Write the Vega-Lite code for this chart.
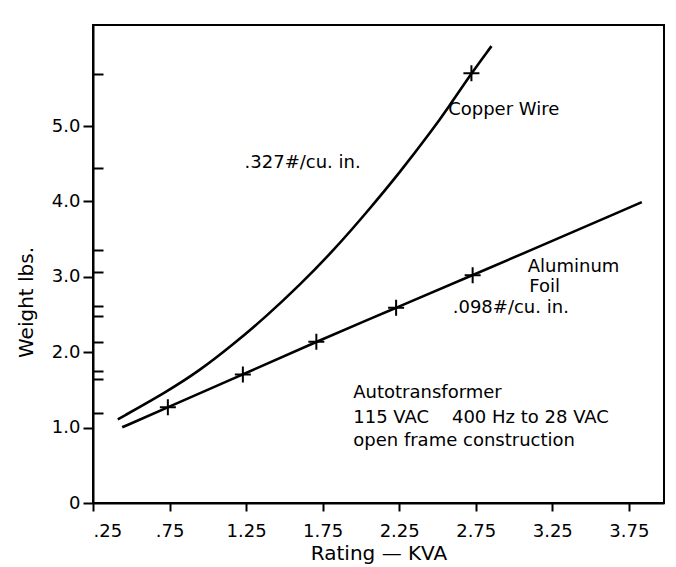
{
  "$schema": "https://vega.github.io/schema/vega-lite/v6.json",
  "width": 571,
  "height": 478,
  "autosize": {"type": "none"},
  "padding": {"left": 93, "top": 25, "right": 12, "bottom": 64},
  "background": "white",
  "config": {
    "view": {"stroke": "black", "strokeWidth": 2},
    "font": "DejaVu Sans",
    "axis": {
      "domainColor": "black",
      "domainWidth": 2,
      "tickColor": "black",
      "tickWidth": 2,
      "labelColor": "black",
      "titleColor": "black",
      "labelFont": "DejaVu Sans",
      "titleFont": "DejaVu Sans",
      "labelFontSize": 18,
      "titleFontSize": 20,
      "titleFontWeight": "normal",
      "grid": false,
      "labelOverlap": false
    }
  },
  "datasets": {
    "curves": [
      {"series": "Copper Wire", "x": 0.412, "y": 1.11},
      {"series": "Copper Wire", "x": 0.728, "y": 1.47},
      {"series": "Copper Wire", "x": 0.946, "y": 1.755},
      {"series": "Copper Wire", "x": 1.164, "y": 2.1},
      {"series": "Copper Wire", "x": 1.382, "y": 2.475},
      {"series": "Copper Wire", "x": 1.6, "y": 2.89},
      {"series": "Copper Wire", "x": 1.817, "y": 3.34},
      {"series": "Copper Wire", "x": 2.036, "y": 3.85},
      {"series": "Copper Wire", "x": 2.253, "y": 4.38},
      {"series": "Copper Wire", "x": 2.471, "y": 4.96},
      {"series": "Copper Wire", "x": 2.569, "y": 5.24},
      {"series": "Copper Wire", "x": 2.722, "y": 5.7},
      {"series": "Copper Wire", "x": 2.853, "y": 6.06},
      {"series": "Aluminum Foil", "x": 0.441, "y": 1.004},
      {"series": "Aluminum Foil", "x": 0.739, "y": 1.27},
      {"series": "Aluminum Foil", "x": 1.229, "y": 1.705},
      {"series": "Aluminum Foil", "x": 1.709, "y": 2.139},
      {"series": "Aluminum Foil", "x": 2.23, "y": 2.59},
      {"series": "Aluminum Foil", "x": 2.73, "y": 3.02},
      {"series": "Aluminum Foil", "x": 3.835, "y": 3.99}
    ],
    "markers": [
      {"series": "Copper Wire", "x": 2.722, "y": 5.7},
      {"series": "Aluminum Foil", "x": 0.739, "y": 1.27},
      {"series": "Aluminum Foil", "x": 1.229, "y": 1.705},
      {"series": "Aluminum Foil", "x": 1.709, "y": 2.139},
      {"series": "Aluminum Foil", "x": 2.23, "y": 2.59},
      {"series": "Aluminum Foil", "x": 2.73, "y": 3.02}
    ],
    "labels": [
      {"x": 1.24, "y": 4.51, "text": ".327#/cu. in."},
      {"x": 2.57, "y": 5.21, "text": "Copper Wire"},
      {"x": 3.09, "y": 3.13, "text": "Aluminum"},
      {"x": 3.10, "y": 2.86, "text": "Foil"},
      {"x": 2.60, "y": 2.58, "text": ".098#/cu. in."},
      {"x": 1.95, "y": 1.46, "text": "Autotransformer"},
      {"x": 1.95, "y": 1.13, "text": "115 VAC\u00a0\u00a0\u00a0\u00a0400 Hz to 28 VAC"},
      {"x": 1.95, "y": 0.82, "text": "open frame construction"}
    ]
  },
  "encoding": {
    "x": {
      "field": "x",
      "type": "quantitative",
      "scale": {"domain": [0.25, 3.98], "nice": false, "zero": false},
      "axis": {
        "title": "Rating — KVA",
        "values": [0.25, 0.75, 1.25, 1.75, 2.25, 2.75, 3.25, 3.75],
        "labelExpr": "datum.value < 1 ? replace(format(datum.value, '.2f'), '0.', '.') : format(datum.value, '.2f')",
        "tickSize": 8,
        "labelPadding": 11,
        "titleY": 50,
        "titleBaseline": "middle"
      }
    },
    "y": {
      "field": "y",
      "type": "quantitative",
      "scale": {"domain": [0, 6.34], "nice": false},
      "axis": null
    }
  },
  "layer": [
    {
      "data": {"name": "curves"},
      "mark": {"type": "line", "color": "black", "strokeWidth": 2.6, "interpolate": "basis"},
      "encoding": {
        "detail": {"field": "series", "type": "nominal"},
        "y": {
          "field": "y",
          "type": "quantitative",
          "scale": {"domain": [0, 6.34], "nice": false},
          "axis": {
            "title": "Weight lbs.",
            "values": [0, 1, 2, 3, 4, 5],
            "labelExpr": "datum.value === 0 ? '0' : format(datum.value, '.1f')",
            "tickSize": 10,
            "labelPadding": 3,
            "titleX": -67,
            "titleY": 277,
            "titleAngle": -90,
            "titleAlign": "center",
            "titleBaseline": "middle"
          }
        }
      }
    },
    {
      "data": {"name": "markers"},
      "mark": {"type": "point", "shape": "M-1,0L1,0M0,-1L0,1", "size": 256, "filled": false, "stroke": "black", "strokeWidth": 2, "opacity": 1},
      "encoding": {
        "y": {
          "field": "y",
          "type": "quantitative",
          "scale": {"domain": [0, 6.34], "nice": false},
          "axis": {
            "orient": "right",
            "offset": -571,
            "values": [1.19, 1.64, 1.75, 2.14, 2.48, 2.61, 3.07, 3.36, 4.44, 5.69],
            "tickSize": 10,
            "labels": false,
            "domain": false,
            "title": null
          }
        }
      }
    },
    {
      "data": {"name": "labels"},
      "mark": {"type": "text", "align": "left", "baseline": "middle", "fontSize": 18, "color": "black", "font": "DejaVu Sans"},
      "encoding": {"text": {"field": "text", "type": "nominal"}}
    }
  ],
  "resolve": {"axis": {"y": "independent"}}
}
